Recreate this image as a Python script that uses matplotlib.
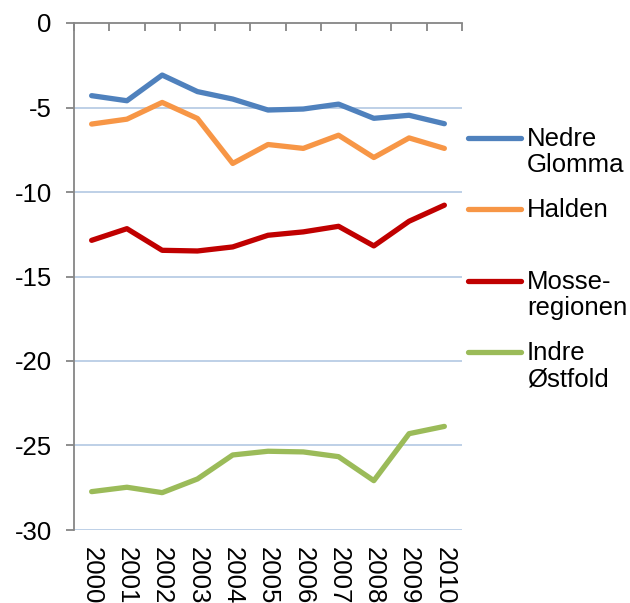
import matplotlib
matplotlib.use("Agg")
import matplotlib.pyplot as plt
from matplotlib.lines import Line2D
import numpy as np

plt.rcParams['font.family'] = ['Liberation Sans', 'DejaVu Sans']
plt.rcParams['axes.unicode_minus'] = False

years = ["2000", "2001", "2002", "2003", "2004", "2005", "2006", "2007", "2008", "2009", "2010"]
nedre_glomma = [-4.3, -4.6, -3.08, -4.06, -4.5, -5.15, -5.09, -4.8, -5.64, -5.46, -5.96]
halden = [-5.98, -5.69, -4.7, -5.65, -8.31, -7.19, -7.42, -6.64, -7.96, -6.8, -7.42]
mosse = [-12.86, -12.17, -13.45, -13.49, -13.25, -12.56, -12.36, -12.03, -13.19, -11.73, -10.78]
indre = [-27.73, -27.47, -27.79, -26.98, -25.56, -25.34, -25.38, -25.66, -27.08, -24.3, -23.87]

series = [
    ("Nedre\nGlomma", nedre_glomma, "#4f81bd"),
    ("Halden", halden, "#f79646"),
    ("Mosse-\nregionen", mosse, "#c00000"),
    ("Indre\nØstfold", indre, "#9bbb59"),
]
yticks = [0, -5, -10, -15, -20, -25, -30]

FS = 18.5

fig = plt.figure(figsize=(6.3, 6.03), dpi=100)
ax = fig.add_axes([74/630, 73/603, 388/630, 507/603])

x = np.arange(len(years))
for yv in yticks[1:]:
    ax.axhline(yv, color="#b9cde5", lw=1.3, zorder=1)

for name, vals, col in series:
    ax.plot(x, vals, color=col, lw=3.8, solid_capstyle="round", solid_joinstyle="round", zorder=3)

ax.set_xlim(-0.5, len(years) - 0.5)
ax.set_ylim(-30, 0)
ax.set_yticks(yticks)
ax.set_yticklabels([str(v) for v in yticks], fontsize=FS)
ax.set_xticks(x)
ax.set_xticklabels(years, rotation=-90, fontsize=FS, va="top", ha="center")
ax.set_xticks(np.arange(len(years) + 1) - 0.5, minor=True)
ax.tick_params(axis="x", which="major", length=0, pad=12, top=False, bottom=True)
ax.tick_params(axis="x", which="minor", length=6, direction="in", top=True, bottom=False, color="#868686", width=1.3)
ax.tick_params(axis="y", which="major", length=6, direction="out", color="#868686", width=1.3, pad=10)

for s in ["right", "bottom"]:
    ax.spines[s].set_visible(False)
for s in ["left", "top"]:
    ax.spines[s].set_color("#868686")
    ax.spines[s].set_linewidth(1.3)

# legend drawn manually
leg_y = [138, 209, 281, 352]
for (name, vals, col), py in zip(series, leg_y):
    fy = 1 - py / 603
    fig.add_artist(Line2D([468/630, 521/630], [fy, fy], color=col, lw=3.8,
                          solid_capstyle="round", transform=fig.transFigure))
    fig.text(527/630, fy + 11/603, name, fontsize=FS, va="top", ha="left",
             linespacing=1.12)

fig.savefig("out.png", dpi=100)
